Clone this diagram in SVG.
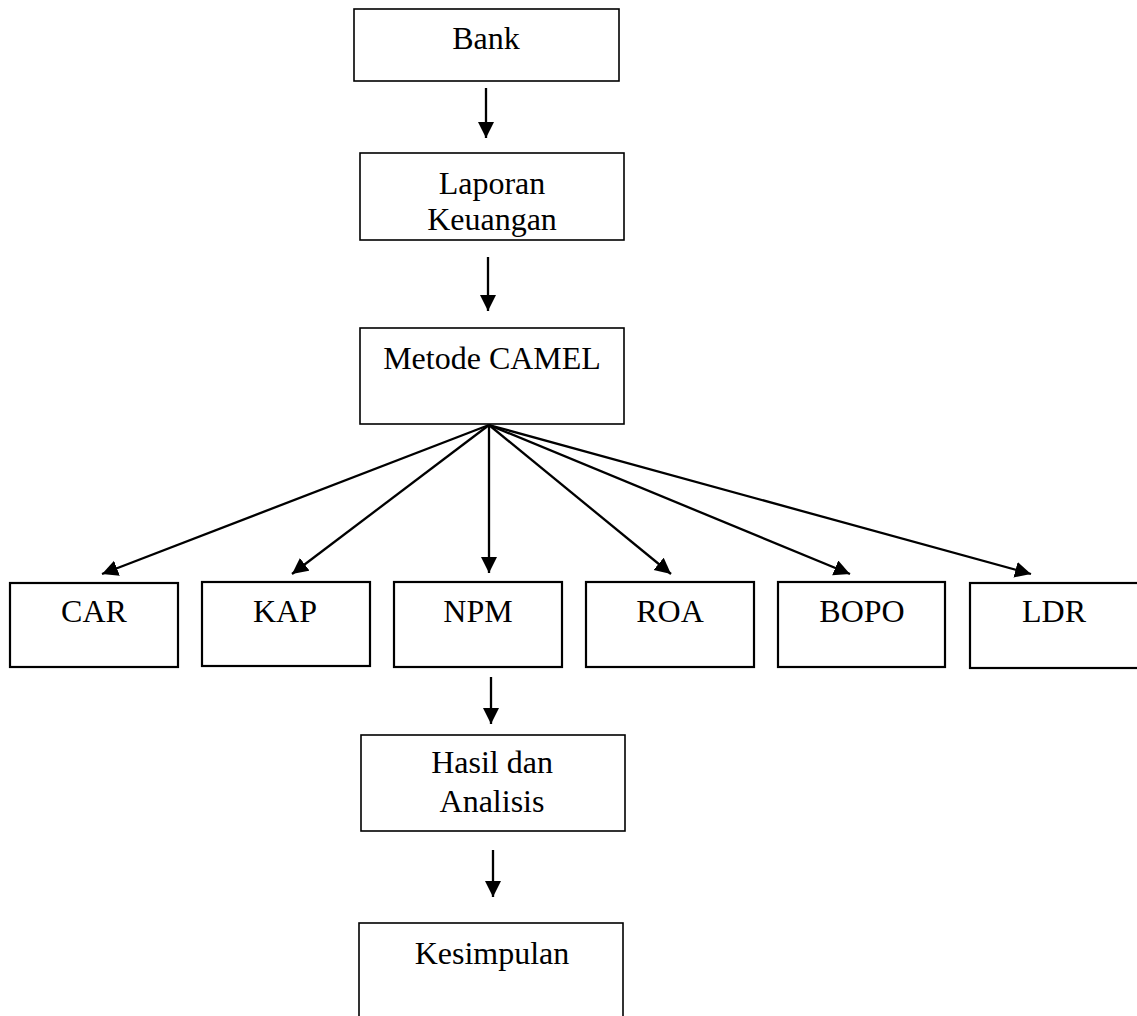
<svg xmlns="http://www.w3.org/2000/svg" width="1137" height="1016" viewBox="0 0 1137 1016">
<style>
.box{fill:#fff;stroke:#000;stroke-width:1.6}
.box2{fill:#fff;stroke:#000;stroke-width:2.2}
.t{font-family:"Liberation Serif","Times New Roman",serif;font-size:32px;fill:#000;text-anchor:middle}
.c{stroke:#000;stroke-width:2.3;fill:none;marker-end:url(#ah)}
</style>
<defs>
<marker id="ah" markerUnits="userSpaceOnUse" markerWidth="17" markerHeight="17" refX="16" refY="8" orient="auto">
<path d="M0,0 L16,8 L0,16 z" fill="#000"/>
</marker>
</defs>
<rect width="1137" height="1016" fill="#fff"/>
<g id="connectors">
<line class="c" x1="486" y1="88" x2="486" y2="138"/>
<line class="c" x1="488" y1="257" x2="488" y2="311"/>
<line class="c" x1="489" y1="425" x2="102" y2="574"/>
<line class="c" x1="489" y1="425" x2="292" y2="574"/>
<line class="c" x1="489" y1="425" x2="489" y2="573"/>
<line class="c" x1="489" y1="425" x2="671" y2="574"/>
<line class="c" x1="489" y1="425" x2="850" y2="574"/>
<line class="c" x1="489" y1="425" x2="1031" y2="574"/>
<line class="c" x1="491" y1="677" x2="491" y2="724"/>
<line class="c" x1="493" y1="850" x2="493" y2="897"/>
</g>
<g id="bank"><rect class="box" x="354" y="9" width="265" height="72"/><text class="t" x="486" y="49">Bank</text></g>
<g id="laporan"><rect class="box" x="360" y="153" width="264" height="87"/><text class="t" x="492" y="194">Laporan</text><text class="t" x="492" y="230">Keuangan</text></g>
<g id="metode"><rect class="box" x="360" y="328" width="264" height="96"/><text class="t" x="492" y="369">Metode CAMEL</text></g>
<g id="car"><rect class="box2" x="10" y="583" width="168" height="84"/><text class="t" x="94" y="622">CAR</text></g>
<g id="kap"><rect class="box2" x="202" y="582" width="168" height="84"/><text class="t" x="285" y="622">KAP</text></g>
<g id="npm"><rect class="box2" x="394" y="582" width="168" height="85"/><text class="t" x="478" y="622">NPM</text></g>
<g id="roa"><rect class="box2" x="586" y="582" width="168" height="85"/><text class="t" x="670" y="622">ROA</text></g>
<g id="bopo"><rect class="box2" x="778" y="582" width="167" height="85"/><text class="t" x="862" y="622">BOPO</text></g>
<g id="ldr"><rect class="box2" x="970" y="583" width="180" height="85"/><text class="t" x="1054" y="622">LDR</text></g>
<g id="hasil"><rect class="box" x="361" y="735" width="264" height="96"/><text class="t" x="492" y="773">Hasil dan</text><text class="t" x="492" y="812">Analisis</text></g>
<g id="kesimpulan"><rect class="box" x="359" y="923" width="264" height="110"/><text class="t" x="492" y="964">Kesimpulan</text></g>
</svg>
